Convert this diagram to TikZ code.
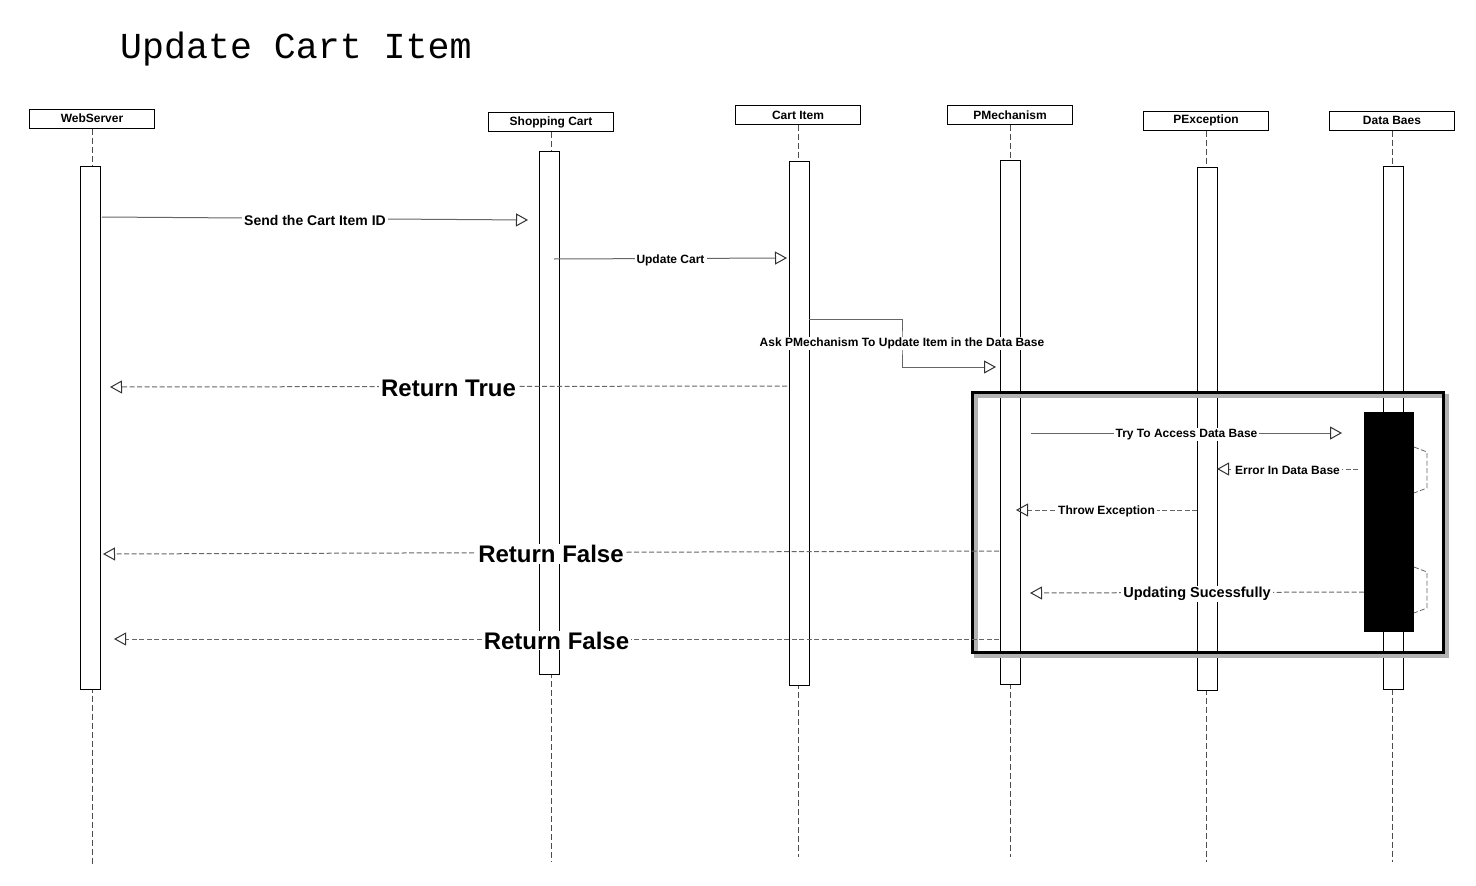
\documentclass[tikz,border=0pt]{standalone}
\usepackage{fontspec}
\setmainfont{Liberation Sans}
\newfontfamily\titlefont{Liberation Mono}
\usetikzlibrary{arrows.meta}

\tikzset{
	head/.style={draw, line width=1pt, minimum width=125pt, minimum height=19pt,
		inner sep=0pt, font=\bfseries\fontsize{12}{14}\selectfont},
	life/.style={black!70, line width=0.8pt, dash pattern=on 6pt off 3pt},
	bar/.style={draw, fill=white, line width=0.8pt},
	msg/.style={black!60, line width=1pt,
		-{Triangle[open, length=12pt, width=13pt, color=black!80]}},
	ret/.style={msg, dash pattern=on 5pt off 2.5pt},
	lbl/.style={fill=white, inner xsep=2pt, inner ysep=1pt, text=black, yshift=-1.5pt,
		font=\bfseries\fontsize{12}{14}\selectfont},
	biglbl/.style={lbl, font=\bfseries\fontsize{24}{26}\selectfont},
}

\begin{document}
\begin{tikzpicture}[x=1pt, y=-1pt]
	\useasboundingbox (0,0) rectangle (1476,886);

	\node[anchor=base west, inner sep=0pt, font=\titlefont\fontsize{36.6}{40}\selectfont]
		(title) at (120,58) {Update Cart Item};

	% lifelines: name/label/x/head y/bar x/bar top/bar bottom/end
	\foreach \n/\t/\x/\hy/\bx/\ba/\bb/\e in {
			ws/WebServer/92/118.5/90/166/689/866,
			sc/Shopping Cart/551/122/549/151/674/862,
			ci/Cart Item/798/115/799.5/161/685/857,
			pm/PMechanism/1010/115/1010.5/160/684/857,
			pe/PException/1206/120.5/1207.5/167/690/862,
			db/Data Baes/1392/120.5/1393/166/689/862} {
		\node[head] (\n) at (\x,\hy) {\t};
		\draw[life] (\n.south) -- (\x,\e);
		\draw[bar] (\bx-10,\ba) rectangle (\bx+10,\bb);
	}

	% combined fragment
	\draw[gray!60, line width=4pt] (976,396) rectangle (1447,656);
	\draw[line width=3pt] (972,392) rectangle (1443,652);
	\fill (1364,412) rectangle (1414,632);
	\draw[black!60, line width=0.8pt, dash pattern=on 5pt off 2.5pt]
		(1414,447) -- (1427,452) -- (1427,488) -- (1414,493);
	\draw[black!60, line width=0.8pt, dash pattern=on 5pt off 2.5pt]
		(1414,567) -- (1427,572) -- (1427,608) -- (1414,613);

	% message ends
	\coordinate (send-a) at (102,217);
	\coordinate (send-b) at (528,220);
	\coordinate (upd-a) at (554,259);
	\coordinate (upd-b) at (787,258);
	\coordinate (ask-a) at (809,319);
	\coordinate (ask-m) at (902,342);
	\coordinate (ask-b) at (996,367);
	\coordinate (true-a) at (787,386);
	\coordinate (true-b) at (110,387);
	\coordinate (try-a) at (1031,433);
	\coordinate (try-b) at (1342,433);
	\coordinate (err-a) at (1358,469);
	\coordinate (err-b) at (1217,469);
	\coordinate (thr-a) at (1197,510);
	\coordinate (thr-b) at (1016,510);
	\coordinate (fa-a) at (999,551);
	\coordinate (fa-b) at (103,554);
	\coordinate (ok-a) at (1364,592);
	\coordinate (ok-b) at (1030,593);
	\coordinate (fb-a) at (999,639);
	\coordinate (fb-b) at (114,639);

	\draw[msg] (send-a) -- node[lbl, font=\bfseries\fontsize{14}{16}\selectfont]
		{Send the Cart Item ID} (send-b);
	\draw[msg] (upd-a) -- node[lbl] {Update Cart} (upd-b);
	\draw[msg] (ask-a) -| (ask-m) node[lbl] {Ask PMechanism To Update Item in the Data Base}
		|- (ask-b);
	\draw[ret] (true-a) -- node[biglbl] {Return True} (true-b);
	\draw[msg] (try-a) -- node[lbl] {Try To Access Data Base} (try-b);
	\draw[ret] (err-a) -- node[lbl] {Error In Data Base} (err-b);
	\draw[ret] (thr-a) -- node[lbl] {Throw Exception} (thr-b);
	\draw[ret] (fa-a) -- node[biglbl] {Return False} (fa-b);
	\draw[ret] (ok-a) -- node[lbl, font=\bfseries\fontsize{14.5}{16}\selectfont]
		{Updating Sucessfully} (ok-b);
	\draw[ret] (fb-a) -- node[biglbl] {Return False} (fb-b);
\end{tikzpicture}
\end{document}
